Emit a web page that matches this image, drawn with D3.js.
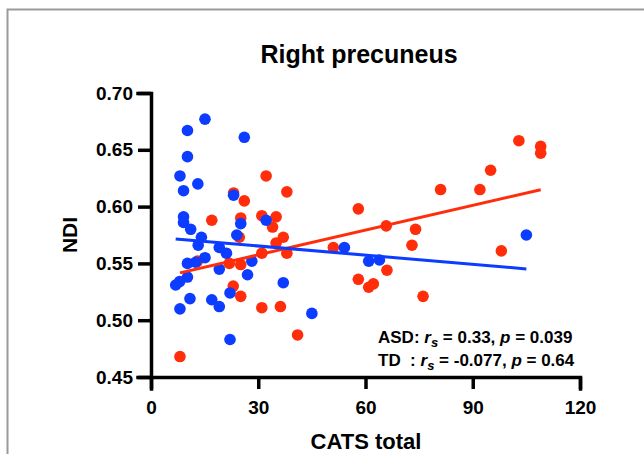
<!DOCTYPE html>
<html>
<head>
<meta charset="utf-8">
<script src="https://cdn.jsdelivr.net/npm/d3@7"></script>
<style>
  html, body { margin: 0; padding: 0; background: #fff; }
  svg { display: block; font-family: "Liberation Sans", Arial, sans-serif; }
  .axis path, .axis line { stroke: #000; stroke-width: 3.5; }
  .axis text { font-size: 19px; font-weight: bold; fill: #000; }
</style>
</head>
<body>
<svg id="chart" width="644" height="454"></svg>
<script>
// ASD group (red)
var asdX = [8.1, 41.0, 31.0, 36.2, 25.1, 23.0, 21.9, 25.1, 31.0, 38.0,
            35.0, 37.0, 34.0, 31.0, 35.0, 25.1, 24.7, 17.0, 23.1, 26.1,
            32.2, 38.0, 13.0, 51.0, 58.0, 58.0, 60.9, 62.2, 65.8, 66.0,
            74.0, 73.0, 76.1, 81.0, 92.0, 95.0, 98.0, 102.9, 109.0, 109.0];
var asdY = [0.468, 0.487, 0.511, 0.512, 0.521, 0.530, 0.550, 0.549, 0.559, 0.559,
            0.568, 0.573, 0.582, 0.592, 0.591, 0.590, 0.573, 0.588, 0.612, 0.605,
            0.627, 0.613, 0.552, 0.564, 0.598, 0.536, 0.529, 0.532, 0.583, 0.544,
            0.580, 0.566, 0.521, 0.615, 0.615, 0.632, 0.561, 0.658, 0.653, 0.647];

// TD group (blue)
var tdX = [15.1, 10.2, 26.1, 10.2, 8.1, 13.1, 9.1, 23.1, 9.1, 9.1,
           11.1, 25.1, 32.2, 24.0, 14.1, 13.2, 19.1, 21.1, 15.1, 10.2,
           12.5, 28.2, 19.1, 10.2, 8.0, 6.9, 27.0, 37.0, 22.1, 10.9,
           17.0, 19.1, 8.1, 45.0, 22.1, 54.1, 60.9, 63.9, 105.0];
var tdY = [0.677, 0.667, 0.661, 0.644, 0.627, 0.620, 0.614, 0.610, 0.591, 0.586,
           0.580, 0.585, 0.588, 0.575, 0.573, 0.566, 0.564, 0.559, 0.555, 0.550,
           0.551, 0.552, 0.545, 0.538, 0.534, 0.531, 0.540, 0.533, 0.524, 0.519,
           0.518, 0.512, 0.510, 0.506, 0.483, 0.564, 0.552, 0.553, 0.575];

// fitted lines [intercept, slope]
var asdFit = [0.5358, 0.000725];
var tdFit = [0.5734, -0.000269];

var xTicks = [0, 30, 60, 90, 120];
var yTicks = [0.45, 0.50, 0.55, 0.60, 0.65, 0.70];

var red = '#ff2d0a',
    blue = '#0b3cff';

var svg = d3.select('#chart'),
    x = d3.scaleLinear().domain([0, 120]).range([151, 580]),
    y = d3.scaleLinear().domain([0.45, 0.70]).range([377, 93]);

// outer frame
svg.append('path')
  .attr('d', 'M7.5,454V9.5H644')
  .attr('fill', 'none')
  .attr('stroke', '#9a9a9a')
  .attr('stroke-width', 2);

// title
svg.append('text')
  .attr('x', 359).attr('y', 63)
  .attr('text-anchor', 'middle')
  .style('font-size', '25px').style('font-weight', 'bold')
  .text('Right precuneus');

// axes
svg.append('g').attr('class', 'axis')
  .attr('transform', 'translate(' + x(0) + ',0)')
  .call(d3.axisLeft(y).tickValues(yTicks).tickSizeOuter(0).tickSize(13).tickPadding(5)
    .tickFormat(d3.format('.2f')));

svg.append('g').attr('class', 'axis')
  .attr('transform', 'translate(0,' + y(0.45) + ')')
  .call(d3.axisBottom(x).tickValues(xTicks).tickSizeOuter(0).tickSize(12).tickPadding(12));

svg.selectAll('.axis path.domain').attr('stroke-linecap', 'square');

// axis titles
svg.append('text')
  .attr('transform', 'translate(77,235) rotate(-90)')
  .attr('text-anchor', 'middle')
  .style('font-size', '21px').style('font-weight', 'bold')
  .text('NDI');

svg.append('text')
  .attr('x', 366).attr('y', 449)
  .attr('text-anchor', 'middle')
  .style('font-size', '22px').style('font-weight', 'bold')
  .text('CATS total');

function drawDots(xs, ys, color) {
  svg.append('g').selectAll('circle')
    .data(xs.map(function (d, i) { return [d, ys[i]]; }))
    .enter().append('circle')
    .attr('cx', function (d) { return x(d[0]); })
    .attr('cy', function (d) { return y(d[1]); })
    .attr('r', 5.8)
    .attr('fill', color);
}

function drawFit(xs, fit, color) {
  var ext = d3.extent(xs);
  var line = d3.line()
    .x(function (d) { return x(d); })
    .y(function (d) { return y(fit[0] + fit[1] * d); });
  svg.append('path')
    .datum(ext)
    .attr('d', line)
    .attr('fill', 'none')
    .attr('stroke', color)
    .attr('stroke-width', 3);
}

drawDots(asdX, asdY, red);
drawDots(tdX, tdY, blue);
drawFit(asdX, asdFit, red);
drawFit(tdX, tdFit, blue);

// statistics annotation
function statLine(yPos, label, r, p) {
  var t = svg.append('text')
    .attr('x', 378).attr('y', yPos)
    .style('font-size', '17px').style('font-weight', 'bold')
    .attr('xml:space', 'preserve');
  t.append('tspan').text(label);
  t.append('tspan').style('font-style', 'italic').text('r');
  t.append('tspan').style('font-style', 'italic').style('font-size', '13px').attr('dy', 4).text('s');
  t.append('tspan').attr('dy', -4).text(' = ' + r + ', ');
  t.append('tspan').style('font-style', 'italic').text('p');
  t.append('tspan').text(' = ' + p);
}

statLine(343, 'ASD: ', '0.33', '0.039');
statLine(366, 'TD\u00a0\u00a0: ', '-0.077', '0.64');
</script>
</body>
</html>
